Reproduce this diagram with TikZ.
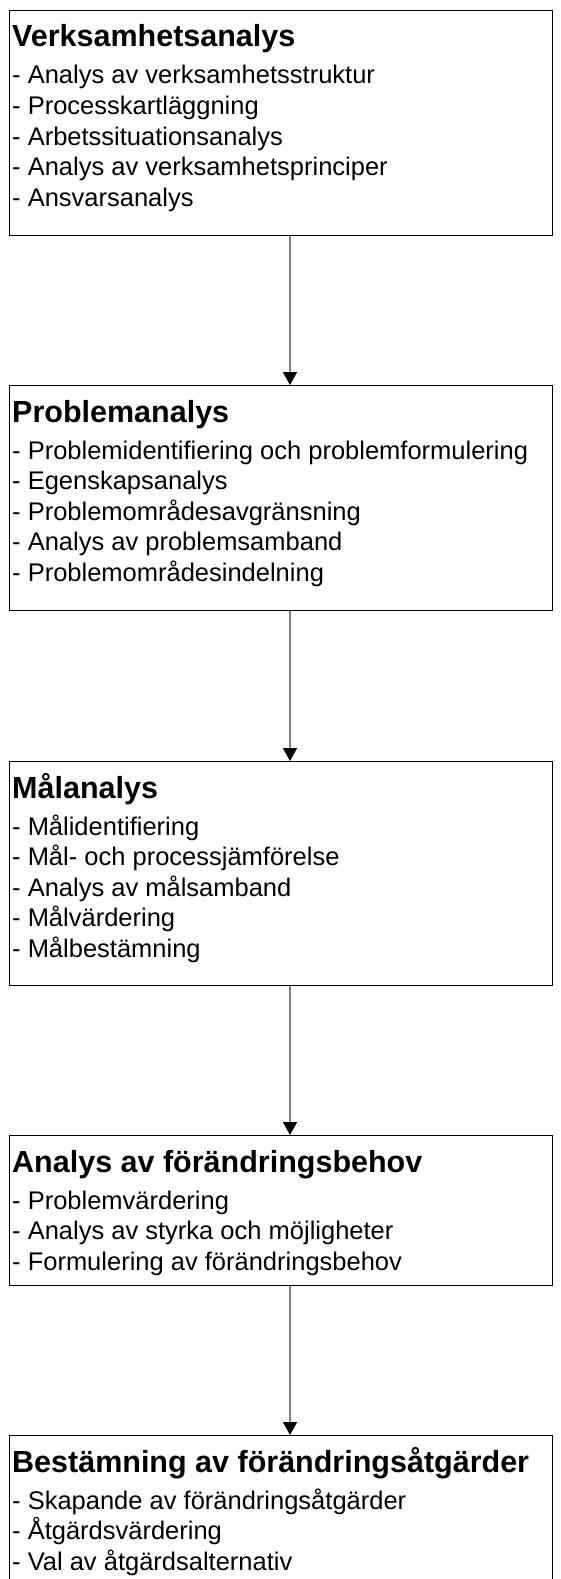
\documentclass[tikz,border=0pt]{standalone}
\usepackage{fontspec}
\setmainfont{Liberation Sans}
\usetikzlibrary{arrows.meta}

\tikzset{
  stage/.style={draw=black, line width=1.1pt, fill=white, inner sep=0pt,
                anchor=north west, minimum width=543pt},
  head/.style={anchor=base west, inner sep=0pt, text=black,
               font=\fontsize{30.5}{36}\selectfont\bfseries},
  item/.style={anchor=base west, inner sep=0pt, text=black,
               font=\fontsize{25.5}{30}\selectfont},
  flow/.style={draw=black!50, line width=1.6pt,
               -{Triangle[width=14pt,length=13pt,color=black]}}
}

% one stage box: name, top y, height, heading, list of items
\newcommand{\stagebox}[5]{%
  \node[stage, minimum height=#3pt] (#1) at (9,#2) {};
  \node[head] (#1-h) at (12,#2+37) {#4};
  \foreach \t [count=\k] in {#5} {
    \node[item] (#1-\k) at (12,#2+74+30.5*\k-30.5) {- \t};
  }%
}

\begin{document}
\begin{tikzpicture}[x=1pt,y=-1pt]
  \path[use as bounding box] (0,0) rectangle (561,1579);
  \clip (0,0) rectangle (561,1579);

  \stagebox{s1}{10}{225}{Verksamhetsanalys}{%
    Analys av verksamhetsstruktur, Processkartläggning,
    Arbetssituationsanalys, Analys av verksamhetsprinciper, Ansvarsanalys}
  \stagebox{s2}{385}{225}{Problemanalys}{%
    Problemidentifiering och problemformulering, Egenskapsanalys,
    Problemområdesavgränsning, Analys av problemsamband,
    Problemområdesindelning}
  \stagebox{s3}{761}{224}{Målanalys}{%
    Målidentifiering, Mål- och processjämförelse, Analys av målsamband,
    Målvärdering, Målbestämning}
  \stagebox{s4}{1135}{150}{Analys av förändringsbehov}{%
    Problemvärdering, Analys av styrka och möjligheter,
    Formulering av förändringsbehov}
  \stagebox{s5}{1435}{220}{Bestämning av förändringsåtgärder}{%
    Skapande av förändringsåtgärder, Åtgärdsvärdering,
    Val av åtgärdsalternativ}

  % flow between stages
  \foreach \a/\b in {s1/s2, s2/s3, s3/s4, s4/s5}
    \draw[flow] ([xshift=281pt]\a.south west) -- ([xshift=281pt]\b.north west);
\end{tikzpicture}
\end{document}
